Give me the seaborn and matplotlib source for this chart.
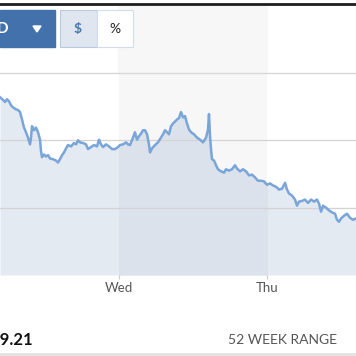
import numpy as np
import pandas as pd
import matplotlib
matplotlib.use("Agg")
import matplotlib.pyplot as plt
from matplotlib.patches import Rectangle, Polygon
from matplotlib.lines import Line2D
import seaborn as sns

# Intraday price trace, hours relative to Wednesday 00:00
hours = [-19.30, -18.81, -18.49, -18.16, -17.84, -17.51, -17.19, -16.70, -16.38, -16.05,
         -15.73, -15.41, -15.08, -14.76, -14.59, -14.43, -14.27, -14.11, -13.78, -13.46,
         -13.14, -12.81, -12.65, -12.49, -12.16, -11.84, -11.51, -11.19, -10.70, -10.22,
         -9.89, -9.57, -9.24, -8.92, -8.59, -8.27, -7.78, -7.30, -6.97, -6.65,
         -6.32, -5.84, -5.35, -5.03, -4.54, -4.05, -3.57, -3.24, -2.92, -2.59,
         -2.11, -1.62, -1.14, -0.65, -0.16, 0.16, 0.65, 1.14, 1.46, 1.78,
         2.27, 2.59, 2.92, 3.24, 3.57, 3.89, 4.22, 4.54, 4.86, 5.03,
         5.35, 5.84, 6.32, 6.81, 7.14, 7.46, 7.78, 8.11, 8.43, 8.76,
         9.08, 9.41, 9.73, 10.05, 10.38, 10.70, 11.03, 11.35, 11.68, 12.16,
         12.65, 13.14, 13.62, 14.11, 14.43, 14.59, 14.76, 14.92, 15.08, 15.41,
         15.73, 16.05, 16.54, 17.03, 17.35, 17.84, 18.32, 18.81, 19.14, 19.62,
         20.11, 20.59, 21.08, 21.57, 22.05, 22.54, 23.03, 23.51, 24.00, 24.49,
         24.97, 25.46, 25.95, 26.43, 26.92, 27.24, 27.57, 28.05, 28.54, 28.86,
         29.19, 29.68, 30.16, 30.65, 31.14, 31.62, 32.11, 32.43, 32.76, 33.08,
         33.57, 34.05, 34.54, 35.03, 35.35, 35.68, 36.00, 36.49, 36.97, 37.46,
         37.95, 38.43]
price = [40.64, 40.60, 40.57, 40.61, 40.58, 40.52, 40.49, 40.46, 40.45, 40.42,
         40.31, 40.19, 40.12, 40.04, 39.99, 39.94, 40.04, 40.21, 40.15, 40.19,
         40.12, 40.01, 39.84, 39.75, 39.79, 39.76, 39.78, 39.73, 39.72, 39.70,
         39.67, 39.72, 39.78, 39.82, 39.88, 39.93, 39.91, 39.96, 39.94, 40.00,
         39.97, 39.96, 39.94, 39.87, 39.90, 39.93, 39.91, 40.01, 39.94, 39.90,
         39.94, 39.91, 39.87, 39.87, 39.90, 39.93, 39.94, 39.97, 39.94, 39.93,
         40.04, 40.12, 40.01, 40.06, 40.10, 40.15, 40.15, 40.09, 39.94, 39.82,
         39.88, 39.93, 39.97, 40.04, 40.09, 40.15, 40.12, 40.09, 40.21, 40.25,
         40.28, 40.31, 40.33, 40.42, 40.34, 40.36, 40.25, 40.16, 40.12, 40.09,
         40.04, 40.01, 39.97, 40.04, 40.16, 40.39, 40.06, 39.87, 39.72, 39.70,
         39.63, 39.57, 39.54, 39.52, 39.57, 39.55, 39.57, 39.63, 39.58, 39.54,
         39.57, 39.54, 39.48, 39.49, 39.45, 39.40, 39.40, 39.39, 39.34, 39.36,
         39.33, 39.31, 39.27, 39.28, 39.37, 39.27, 39.21, 39.18, 39.12, 39.03,
         39.09, 39.10, 39.12, 39.07, 39.12, 39.09, 39.12, 39.06, 38.94, 39.03,
         39.00, 38.96, 38.93, 38.91, 38.82, 38.79, 38.84, 38.88, 38.91, 38.85,
         38.82, 38.84]

day_ticks = [0, 24]
day_labels = ["Wed", "Thu"]
grid_levels = [39, 40, 41]

df = pd.DataFrame({"hours": hours, "price": price})

W = 356.0
def fx(x):
    return x / W
def fy(y):
    return 1 - y / W

fig = plt.figure(figsize=(3.56, 3.56), dpi=100)
fig.patch.set_facecolor("white")

# light band of the Wednesday session above the chart
fig.patches.append(Rectangle((fx(118), fy(73)), fx(267) - fx(118), fy(5) - fy(73),
                             transform=fig.transFigure, color="#f7f7f7", zorder=0))

ax = fig.add_axes([0, fy(275), 1, fy(73) - fy(275)])
ax.set_xlim(-19.30, 38.43)
ax.set_ylim(38.0, 41.0)
ax.set_facecolor("none")

ax.axvspan(0, 24, color="#f7f7f7", zorder=0, lw=0)
ax.fill_between(df["hours"], df["price"], 38.0, color="#e4eaf2", lw=0, zorder=1)
band_fill = ax.fill_between(df["hours"], df["price"], 38.0, color="#dbe2eb", lw=0, zorder=1.5)
band_fill.set_clip_path(Rectangle((0, 38.0), 24, 3.5, transform=ax.transData))

for g in grid_levels[:-1]:
    ax.axhline(g, color="#d3d3d3", lw=0.9, zorder=2)

sns.lineplot(data=df, x="hours", y="price", ax=ax, color="#79a5d9", linewidth=1.8, zorder=3)

for s in ax.spines.values():
    s.set_visible(False)
ax.set_xticks(day_ticks)
ax.set_xticklabels(day_labels, fontfamily="Lato", fontsize=9.5, color="#555555")
ax.tick_params(axis="x", length=3, color="#cccccc", pad=2)
ax.set_yticks([])
ax.set_xlabel("")
ax.set_ylabel("")

# separator / top grid line
fig.add_artist(Line2D([0, 1], [fy(73), fy(73)], color="#d8d8d8", lw=1.0, transform=fig.transFigure))
# dark top rule
fig.add_artist(Line2D([0, 1], [fy(3.5), fy(3.5)], color="#1e1e1e", lw=2.0, transform=fig.transFigure))

# range dropdown button
fig.patches.append(Rectangle((fx(0), fy(47)), fx(55), fy(10) - fy(47),
                             transform=fig.transFigure, color="#4271ab"))
fig.text(fx(3), fy(29), "D", color="white", fontsize=11, fontweight="bold",
         fontfamily="Lato", ha="center", va="center")
fig.patches.append(Polygon([(fx(33), fy(26)), (fx(41), fy(26)), (fx(37), fy(32))],
                           closed=True, transform=fig.transFigure, color="white"))

# $ / % toggle
fig.patches.append(Rectangle((fx(60), fy(47)), fx(97) - fx(60), fy(10) - fy(47),
                             transform=fig.transFigure, facecolor="#dfe6f0",
                             edgecolor="#b9c9df", lw=0.8))
fig.patches.append(Rectangle((fx(97), fy(47)), fx(133) - fx(97), fy(10) - fy(47),
                             transform=fig.transFigure, facecolor="white",
                             edgecolor="#d3dde9", lw=0.8))
fig.text(fx(78), fy(29), "$", color="#4a78b0", fontsize=10, fontweight="bold",
         fontfamily="Lato", ha="center", va="center")
fig.text(fx(115), fy(29), "%", color="#222222", fontsize=10,
         fontfamily="Lato", ha="center", va="center")

# bottom row
fig.text(fx(33), fy(340), "39.21", color="#111111", fontsize=12, fontweight="bold",
         fontfamily="Lato", ha="right", va="center")
fig.text(fx(337), fy(340), "52 WEEK RANGE", color="#555555", fontsize=10,
         fontfamily="Lato", ha="right", va="center")
fig.add_artist(Line2D([0, 1], [fy(354), fy(354)], color="#e2e2e2", lw=2.0,
                      transform=fig.transFigure))

fig.savefig("out.png", dpi=100)
